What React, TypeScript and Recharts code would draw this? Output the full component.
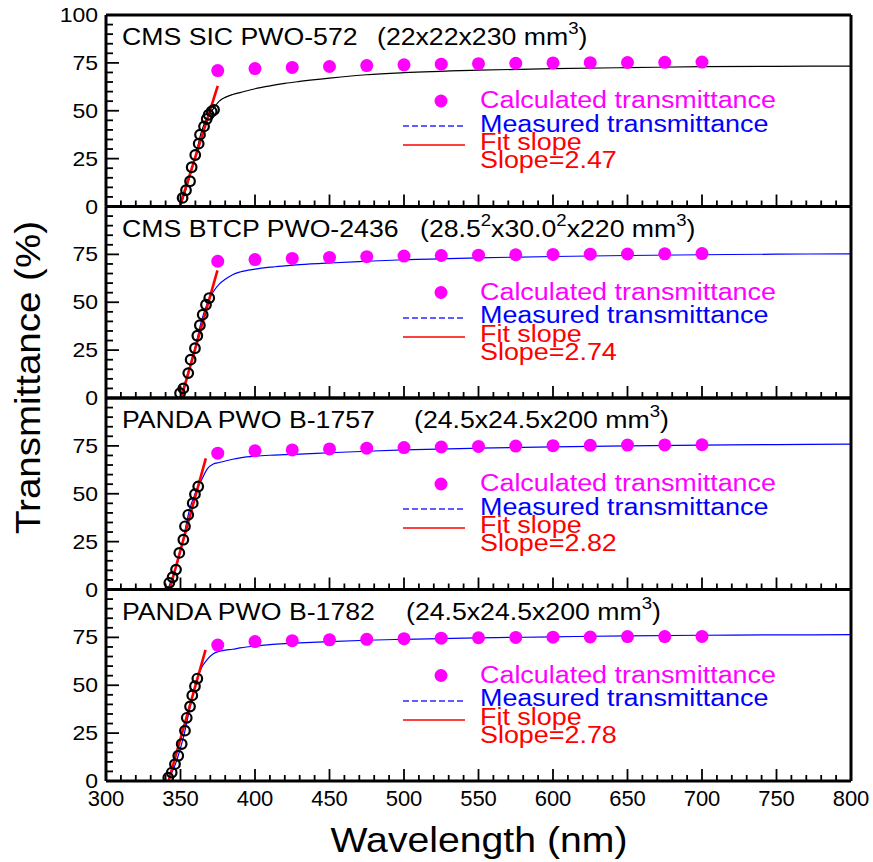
import React from 'react';
import { ComposedChart, Line, Scatter, XAxis, YAxis } from 'recharts';

const W = 873;
const H = 862;
const PLOT_LEFT = 106;
const PLOT_RIGHT = 851;
const PANEL_TOPS = [15, 206.5, 398, 589.5];
const PANEL_H = 191.5;
const FONT = '"Liberation Sans", Arial, Helvetica, sans-serif';

// ---------- tick values ----------
const xMinorTicks = [
  300, 310, 320, 330, 340, 350, 360, 370, 380, 390, 400, 410, 420, 430, 440, 450, 460, 470, 480, 490,
  500, 510, 520, 530, 540, 550, 560, 570, 580, 590, 600, 610, 620, 630, 640, 650, 660, 670, 680, 690,
  700, 710, 720, 730, 740, 750, 760, 770, 780, 790, 800,
];
const yMinorTicks = [0, 5, 10, 15, 20, 25, 30, 35, 40, 45, 50, 55, 60, 65, 70, 75, 80, 85, 90, 95, 100];

// ---------- calculated transmittance (magenta dots) ----------
const calcWl = [375, 400, 425, 450, 475, 500, 525, 550, 575, 600, 625, 650, 675, 700];
const calc1 = [71, 72, 72.6, 73.1, 73.6, 74, 74.3, 74.6, 74.8, 75, 75.1, 75.2, 75.3, 75.4];
const calc2 = [71.4, 72.3, 72.9, 73.4, 73.8, 74.1, 74.4, 74.6, 74.8, 75, 75.1, 75.2, 75.3, 75.4];
const calc3 = [71.2, 72.4, 72.9, 73.4, 73.8, 74.1, 74.4, 74.7, 74.9, 75.1, 75.3, 75.4, 75.5, 75.6];
const calc4 = [71, 72.8, 73.3, 73.7, 74, 74.3, 74.6, 74.8, 75, 75.1, 75.2, 75.4, 75.4, 75.5];

// ---------- measured transmittance ----------
const meas1Wl = [300, 349, 352, 356, 360, 364, 368, 372, 376, 380, 385, 390, 400, 410, 420, 430, 450, 475, 500, 550, 600, 650, 700, 750, 800];
const meas1T = [0, 0, 5, 15, 26, 39, 46.5, 51, 55, 57, 58.5, 59.5, 61.5, 63, 64.3, 65.3, 67, 68.8, 69.9, 71.2, 72, 72.5, 73, 73.2, 73.3];
const meas2Wl = [300, 349, 352, 356, 360, 364, 368, 372, 376, 380, 385, 390, 400, 410, 420, 430, 450, 475, 500, 550, 600, 650, 700, 750, 800];
const meas2T = [0, 0, 5.5, 16, 27, 40, 49.5, 55.5, 59.5, 62, 64.4, 65.8, 67.3, 68.3, 69, 69.6, 70.5, 71.4, 72.2, 73.2, 73.9, 74.4, 74.8, 75.1, 75.3];
const meas3Wl = [300, 341, 344, 348, 352, 356, 360, 364, 368, 372, 376, 380, 385, 390, 400, 410, 420, 430, 450, 475, 500, 550, 600, 650, 700, 750, 800];
const meas3T = [0, 0, 5.5, 14, 27, 41.5, 50.5, 57, 63, 65.5, 66.3, 67.1, 68, 68.7, 69.6, 70.1, 70.4, 70.7, 71.4, 72.2, 72.9, 73.8, 74.5, 75, 75.4, 75.7, 75.9];
const meas4Wl = [300, 341, 344, 348, 352, 356, 360, 364, 368, 372, 376, 380, 385, 390, 400, 410, 420, 430, 450, 475, 500, 550, 600, 650, 700, 750, 800];
const meas4T = [0, 0, 4, 12, 23, 37, 50.5, 59, 63.5, 66.5, 67.7, 68.3, 68.8, 69.5, 70.5, 71.2, 71.7, 72.1, 72.8, 73.5, 74, 74.7, 75.3, 75.8, 76.1, 76.3, 76.4];

// ---------- measured points in the fit range (open circles) ----------
const circ1Wl = [351.4, 353.7, 356.4, 357.5, 359.9, 362.2, 363.1, 365.8, 367.6, 368.9, 370.9, 372.5];
const circ1T = [4.5, 8.5, 13.2, 20.5, 26.9, 32.8, 37.5, 41.8, 45.7, 47.9, 49.6, 50.5];
const circ2Wl = [349.7, 351.9, 355.2, 356.8, 359.7, 361.3, 363, 364.9, 367.1, 369.3];
const circ2T = [2.5, 5, 13, 20, 26, 32.5, 38, 43.5, 48.7, 52.2];
const circ3Wl = [342.5, 344.7, 347, 349.2, 351.9, 353, 355.2, 358.2, 359.7, 361.9];
const circ3T = [3.5, 6.4, 10.4, 19.1, 26, 33, 39, 45.1, 49.8, 53.8];
const circ4Wl = [341.8, 344.1, 346.3, 348.5, 350.8, 353, 354.2, 356.4, 357.9, 359.7, 361.3];
const circ4T = [1.7, 4.4, 8.8, 13.2, 19.3, 26.3, 33, 38.9, 44.7, 49.5, 53.5];

// ---------- linear fits ----------
const fit1Wl = [349.5, 375];
const fit1T = [0, 63];
const fit2Wl = [350.5, 374.8];
const fit2T = [0, 66.6];
const fit3Wl = [342.7, 367];
const fit3T = [0, 68.5];
const fit4Wl = [342, 366.8];
const fit4T = [0, 68.5];

const slopeLabels = ['Slope=2.47', 'Slope=2.74', 'Slope=2.82', 'Slope=2.78'];
const measColors = ['#000000', '#0000ff', '#0000ff', '#0000ff'];
const titleNames = ['CMS SIC PWO-572', 'CMS BTCP PWO-2436', 'PANDA PWO B-1757', 'PANDA PWO B-1782'];

const zip = (xs: number[], ys: number[]) => xs.map((x, i) => ({ x, y: ys[i] }));

const panels = [
  { meas: zip(meas1Wl, meas1T), circ: zip(circ1Wl, circ1T), fit: zip(fit1Wl, fit1T), calc: zip(calcWl, calc1) },
  { meas: zip(meas2Wl, meas2T), circ: zip(circ2Wl, circ2T), fit: zip(fit2Wl, fit2T), calc: zip(calcWl, calc2) },
  { meas: zip(meas3Wl, meas3T), circ: zip(circ3Wl, circ3T), fit: zip(fit3Wl, fit3T), calc: zip(calcWl, calc3) },
  { meas: zip(meas4Wl, meas4T), circ: zip(circ4Wl, circ4T), fit: zip(fit4Wl, fit4T), calc: zip(calcWl, calc4) },
];

const SX = 1.16;

function ST(props: any) {
  const { x, y, size, fill = '#000', anchor = 'start', sx = SX, rotate, children } = props;
  const tr = `translate(${x},${y})${rotate ? ` rotate(${rotate})` : ''} scale(${sx},1)`;
  return (
    <text transform={tr} fontSize={size} fill={fill} textAnchor={anchor} fontFamily={FONT}>
      {children}
    </text>
  );
}

function XTick(props: any) {
  const { x, y, payload, showLabel } = props;
  const v = payload.value;
  const major = v % 50 === 0;
  return (
    <g>
      <line x1={x} x2={x} y1={y} y2={y - (major ? 12 : 6)} stroke="#000" strokeWidth={1.8} />
      {showLabel && major ? (
        <text x={x} y={y + 25} textAnchor="middle" fontSize={22} fontFamily={FONT} fill="#000">
          {v}
        </text>
      ) : null}
    </g>
  );
}

function YTick(props: any) {
  const { x, y, payload, showTop } = props;
  const v = payload.value;
  const major = v % 25 === 0;
  const showLabel = major && (v < 100 || showTop);
  return (
    <g>
      <line x1={x} x2={x + (major ? 13 : 7)} y1={y} y2={y} stroke="#000" strokeWidth={1.8} />
      {showLabel ? (
        <text transform={`translate(${x - 8},${y + 7}) scale(1.15,1)`} textAnchor="end" fontSize={20} fontFamily={FONT} fill="#000">
          {v}
        </text>
      ) : null}
    </g>
  );
}

const OpenCircle = (p: any) => <circle cx={p.cx} cy={p.cy} r={4.8} fill="none" stroke="#000" strokeWidth={2.2} />;
const MagentaDot = (p: any) => <circle cx={p.cx} cy={p.cy} r={6.5} fill="#ff00ff" />;

function Panel({ idx }: { idx: number }) {
  const T = PANEL_TOPS[idx];
  const p = panels[idx];
  const axisLine = { stroke: '#000', strokeWidth: 3 };
  return (
    <div style={{ position: 'absolute', left: 0, top: 0 }}>
      <ComposedChart
        width={W}
        height={H}
        margin={{ top: T - 1, bottom: H - T - PANEL_H - 1, left: PLOT_LEFT - 1, right: W - PLOT_RIGHT - 1 }}
      >
        <XAxis
          type="number"
          dataKey="x"
          domain={[300, 800]}
          ticks={xMinorTicks}
          interval={0}
          height={1}
          tickSize={0}
          tickMargin={0}
          tickLine={false}
          axisLine={axisLine}
          allowDataOverflow
          tick={(tp: any) => <XTick {...tp} showLabel={idx === 3} />}
        />
        <XAxis
          xAxisId="top"
          orientation="top"
          type="number"
          dataKey="x"
          domain={[300, 800]}
          height={1}
          tick={false}
          tickLine={false}
          axisLine={axisLine}
        />
        <YAxis
          type="number"
          dataKey="y"
          domain={[0, 100]}
          ticks={yMinorTicks}
          interval={0}
          width={1}
          tickSize={0}
          tickMargin={0}
          tickLine={false}
          axisLine={axisLine}
          allowDataOverflow
          tick={(tp: any) => <YTick {...tp} showTop={idx === 0} />}
        />
        <YAxis
          yAxisId="right"
          orientation="right"
          type="number"
          domain={[0, 100]}
          width={1}
          tick={false}
          tickLine={false}
          axisLine={axisLine}
        />
        <Line
          data={p.meas}
          dataKey="y"
          type="monotone"
          stroke={measColors[idx]}
          strokeWidth={1.2}
          dot={false}
          activeDot={false}
          isAnimationActive={false}
        />
        <Scatter data={p.circ} dataKey="y" shape={OpenCircle} isAnimationActive={false} />
        <Line
          data={p.fit}
          dataKey="y"
          type="linear"
          stroke="#ff0000"
          strokeWidth={2.6}
          dot={false}
          activeDot={false}
          isAnimationActive={false}
        />
        <Scatter data={p.calc} dataKey="y" shape={MagentaDot} isAnimationActive={false} />
      </ComposedChart>
    </div>
  );
}

function Titles() {
  const t = PANEL_TOPS;
  const b = (i: number) => t[i] + 30;
  return (
    <g>
      {titleNames.map((n, i) => (
        <ST key={n} x={122} y={b(i)} size={23}>
          {n}
        </ST>
      ))}
      <ST x={377} y={b(0)} size={23}>
        (22x22x230 mm<tspan dy={-11} fontSize={16}>3</tspan>
        <tspan dy={11}>)</tspan>
      </ST>
      <ST x={420} y={b(1)} size={23}>
        (28.5<tspan dy={-11} fontSize={16}>2</tspan>
        <tspan dy={11}>x30.0</tspan>
        <tspan dy={-11} fontSize={16}>2</tspan>
        <tspan dy={11}>x220 mm</tspan>
        <tspan dy={-11} fontSize={16}>3</tspan>
        <tspan dy={11}>)</tspan>
      </ST>
      <ST x={414} y={b(2)} size={23}>
        (24.5x24.5x200 mm<tspan dy={-11} fontSize={16}>3</tspan>
        <tspan dy={11}>)</tspan>
      </ST>
      <ST x={406} y={b(3)} size={23}>
        (24.5x24.5x200 mm<tspan dy={-11} fontSize={16}>3</tspan>
        <tspan dy={11}>)</tspan>
      </ST>
    </g>
  );
}

function Legends() {
  return (
    <g>
      {PANEL_TOPS.map((T, i) => {
        const dashY = Math.round(T + 111);
        const redY = Math.round(T + 130);
        return (
          <g key={i}>
            <circle cx={441} cy={T + 86} r={6.5} fill="#ff00ff" />
            <ST x={480} y={T + 93} size={23} fill="#ff00ff" sx={1.17}>
              Calculated transmittance
            </ST>
            <line x1={403} x2={465} y1={dashY} y2={dashY} stroke="#2a2aff" strokeWidth={1.5} strokeDasharray="6 3" />
            <ST x={480} y={T + 116.5} size={23} fill="#0000ff" sx={1.17}>
              Measured transmittance
            </ST>
            <line x1={403} x2={465} y1={redY} y2={redY} stroke="#ff0000" strokeWidth={1.5} />
            <ST x={480} y={T + 135} size={23} fill="#ff0000" sx={1.17}>
              Fit slope
            </ST>
            <ST x={480} y={T + 153} size={23} fill="#ff0000" sx={1.17}>
              {slopeLabels[i]}
            </ST>
          </g>
        );
      })}
    </g>
  );
}

export default function App() {
  return (
    <div style={{ position: 'absolute', left: 0, top: 0, width: W, height: H, background: '#fff' }}>
      {[0, 1, 2, 3].map((i) => (
        <Panel key={i} idx={i} />
      ))}
      <svg
        width={W}
        height={H}
        style={{ position: 'absolute', left: 0, top: 0, pointerEvents: 'none' }}
      >
        <Titles />
        <Legends />
        <ST x={479} y={852} size={35} sx={1.12} anchor="middle">
          Wavelength (nm)
        </ST>
        <ST x={40} y={377.5} size={35} sx={1.1} anchor="middle" rotate={-90}>
          Transmittance (%)
        </ST>
      </svg>
    </div>
  );
}
